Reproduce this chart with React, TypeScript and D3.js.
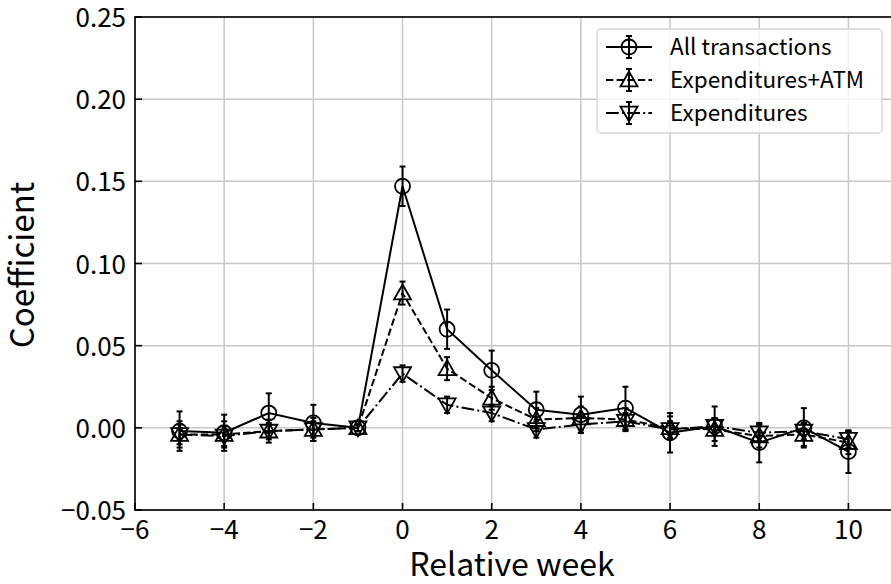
import { useRef, useEffect } from 'react';
import * as d3 from 'd3';

const weeks = [-5, -4, -3, -2, -1, 0, 1, 2, 3, 4, 5, 6, 7, 8, 9, 10];

const allTx = [-0.002, -0.003, 0.009, 0.003, 0, 0.147, 0.06, 0.035, 0.011, 0.008, 0.012, -0.003, 0.001, -0.009, 0, -0.0145];
const allTxErr = [0.012, 0.011, 0.012, 0.011, 0.002, 0.012, 0.012, 0.012, 0.011, 0.011, 0.013, 0.012, 0.012, 0.012, 0.012, 0.013];

const expAtm = [-0.004, -0.004, -0.002, -0.001, 0, 0.082, 0.036, 0.018, 0.005, 0.006, 0.005, 0, -0.001, -0.005, -0.004, -0.009];
const expAtmErr = [0.008, 0.008, 0.007, 0.007, 0.002, 0.007, 0.007, 0.007, 0.007, 0.007, 0.007, 0.007, 0.007, 0.007, 0.007, 0.007];

const exp = [-0.004, -0.005, -0.002, -0.001, 0, 0.033, 0.014, 0.009, -0.001, 0.002, 0.004, -0.001, 0.001, -0.003, -0.002, -0.007];
const expErr = [0.006, 0.006, 0.005, 0.005, 0.002, 0.005, 0.005, 0.005, 0.005, 0.005, 0.005, 0.005, 0.005, 0.005, 0.005, 0.005];

const xTicks = [-6, -4, -2, 0, 2, 4, 6, 8, 10];
const yTicks = [-0.05, 0, 0.05, 0.1, 0.15, 0.2, 0.25];

const seriesNames = ['All transactions', 'Expenditures+ATM', 'Expenditures'];

const FONT = "'Noto Sans CJK JP', 'Noto Sans', sans-serif";

export default function App() {
  const svgRef = useRef<SVGSVGElement>(null);

  useEffect(() => {
    const svg = d3.select(svgRef.current);
    svg.selectAll('*').remove();

    const width = 891;
    const height = 584;
    const margin = { left: 135, top: 17, right: -2, bottom: 74 };

    const x = d3.scaleLinear().domain([-6, 11]).range([margin.left, width - margin.right]);
    const y = d3.scaleLinear().domain([-0.05, 0.25]).range([height - margin.bottom, margin.top]);

    const [x0, x1] = x.range();
    const [y0, y1] = y.range();

    // grid
    const grid = svg.append('g');
    xTicks.forEach((t) => {
      grid.append('line')
        .attr('x1', x(t)).attr('x2', x(t))
        .attr('y1', y0).attr('y2', y1)
        .attr('stroke', '#c8c8c8').attr('stroke-width', 1.5);
    });
    yTicks.forEach((t) => {
      grid.append('line')
        .attr('x1', x0).attr('x2', x1)
        .attr('y1', y(t)).attr('y2', y(t))
        .attr('stroke', '#c8c8c8').attr('stroke-width', 1.5);
    });

    const series = [
      { vals: allTx, err: allTxErr, dash: null, marker: 'circle' },
      { vals: expAtm, err: expAtmErr, dash: '7.4,3.2', marker: 'up' },
      { vals: exp, err: expErr, dash: '12.8,3.2,2,3.2', marker: 'down' },
    ];

    const line = d3.line<number>()
      .x((_, i) => x(weeks[i]))
      .y((d) => y(d));

    const drawMarker = (g: d3.Selection<SVGGElement, unknown, null, undefined>, kind: string, cx: number, cy: number) => {
      if (kind === 'circle') {
        g.append('circle').attr('cx', cx).attr('cy', cy).attr('r', 7.5)
          .attr('fill', 'none').attr('stroke', '#000').attr('stroke-width', 1.8);
      } else {
        const s = 8.5;
        const sign = kind === 'up' ? -1 : 1;
        const pts = [
          [cx, cy + sign * s],
          [cx - s, cy - sign * s * 0.75],
          [cx + s, cy - sign * s * 0.75],
        ];
        g.append('polygon').attr('points', pts.map((p) => p.join(',')).join(' '))
          .attr('fill', 'none').attr('stroke', '#000').attr('stroke-width', 1.8)
          .attr('stroke-linejoin', 'miter');
      }
    };

    const plot = svg.append('g');
    series.forEach((s) => {
      const path = plot.append('path')
        .datum(s.vals)
        .attr('d', line)
        .attr('fill', 'none')
        .attr('stroke', '#000')
        .attr('stroke-width', 2);
      if (s.dash) path.attr('stroke-dasharray', s.dash);

      s.vals.forEach((v, i) => {
        const cx = x(weeks[i]);
        const top = y(v + s.err[i]);
        const bot = y(v - s.err[i]);
        plot.append('line').attr('x1', cx).attr('x2', cx).attr('y1', top).attr('y2', bot)
          .attr('stroke', '#000').attr('stroke-width', 2);
        [top, bot].forEach((yy) => {
          plot.append('line').attr('x1', cx - 3).attr('x2', cx + 3).attr('y1', yy).attr('y2', yy)
            .attr('stroke', '#000').attr('stroke-width', 2);
        });
        drawMarker(plot, s.marker, cx, y(v));
      });
    });

    // spines
    svg.append('rect')
      .attr('x', x0).attr('y', y1)
      .attr('width', x1 - x0).attr('height', y0 - y1)
      .attr('fill', 'none').attr('stroke', '#000').attr('stroke-width', 1.6);

    // ticks (inward) + labels
    xTicks.forEach((t) => {
      svg.append('line').attr('x1', x(t)).attr('x2', x(t)).attr('y1', y0).attr('y2', y0 - 7)
        .attr('stroke', '#000').attr('stroke-width', 1.6);
      svg.append('text')
        .attr('x', x(t)).attr('y', y0 + 29)
        .attr('text-anchor', 'middle')
        .attr('font-family', FONT).attr('font-size', 26)
        .attr('fill', '#000')
        .text(t < 0 ? `\u2212${Math.abs(t)}` : `${t}`);
    });
    yTicks.forEach((t) => {
      svg.append('line').attr('x1', x0).attr('x2', x0 + 7).attr('y1', y(t)).attr('y2', y(t))
        .attr('stroke', '#000').attr('stroke-width', 1.6);
      svg.append('text')
        .attr('x', x0 - 9).attr('y', y(t) + 10)
        .attr('text-anchor', 'end')
        .attr('font-family', FONT).attr('font-size', 26)
        .attr('fill', '#000')
        .text(t < 0 ? `\u2212${Math.abs(t).toFixed(2)}` : t.toFixed(2));
    });

    // axis titles
    svg.append('text')
      .attr('x', 512).attr('y', 576)
      .attr('text-anchor', 'middle')
      .attr('font-family', FONT).attr('font-size', 32)
      .attr('fill', '#000')
      .text('Relative week');
    svg.append('text')
      .attr('transform', `translate(34,265) rotate(-90)`)
      .attr('text-anchor', 'middle')
      .attr('font-family', FONT).attr('font-size', 33)
      .attr('fill', '#000')
      .text('Coefficient');

    // legend
    const leg = svg.append('g');
    leg.append('rect')
      .attr('x', 597).attr('y', 29).attr('width', 285).attr('height', 104)
      .attr('rx', 4)
      .attr('fill', 'rgba(255,255,255,0.8)')
      .attr('stroke', '#d5d5d5').attr('stroke-width', 1.3);
    series.forEach((s, i) => {
      const ly = 47 + i * 33;
      const l = leg.append('line').attr('x1', 606).attr('x2', 652).attr('y1', ly).attr('y2', ly)
        .attr('stroke', '#000').attr('stroke-width', 2);
      if (s.dash) l.attr('stroke-dasharray', s.dash);
      leg.append('line').attr('x1', 629).attr('x2', 629).attr('y1', ly - 11).attr('y2', ly + 11)
        .attr('stroke', '#000').attr('stroke-width', 2);
      [ly - 11, ly + 11].forEach((yy) => {
        leg.append('line').attr('x1', 626).attr('x2', 632).attr('y1', yy).attr('y2', yy)
          .attr('stroke', '#000').attr('stroke-width', 2);
      });
      drawMarker(leg, s.marker, 629, ly);
      leg.append('text')
        .attr('x', 670).attr('y', ly + 8)
        .attr('font-family', FONT).attr('font-size', 22.5)
        .attr('fill', '#000')
        .text(seriesNames[i]);
    });
  }, []);

  return (
    <div style={{ position: 'fixed', left: 0, top: 0 }}>
      <svg ref={svgRef} width={891} height={584} style={{ display: 'block', background: '#fff' }} />
    </div>
  );
}
